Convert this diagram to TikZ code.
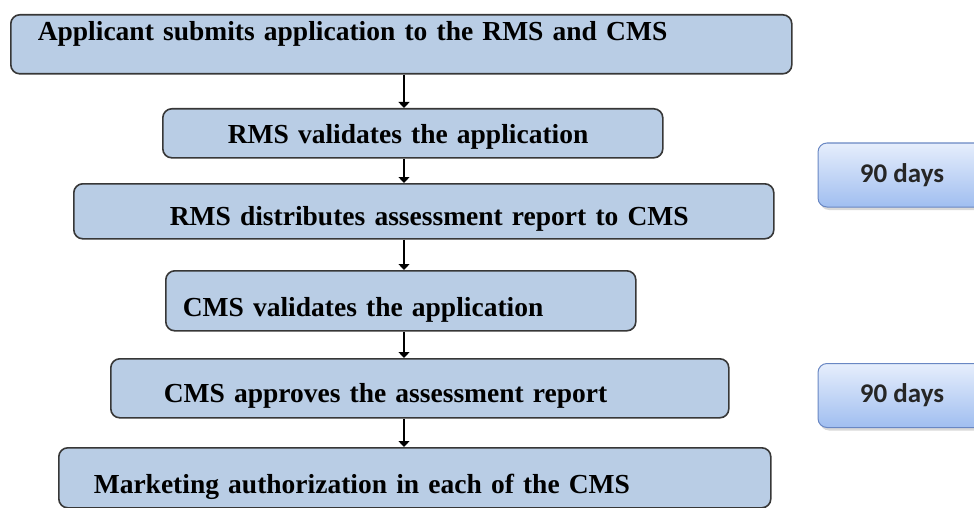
\documentclass[tikz,border=0pt]{standalone}
\usepackage{fontspec}
\setmainfont{Liberation Serif}
\newfontfamily\calibri{Carlito}
\usetikzlibrary{arrows.meta,shadows}
\definecolor{stepfill}{RGB}{185,205,229}
\definecolor{stepline}{RGB}{55,55,55}
\definecolor{daytop}{RGB}{230,238,252}
\definecolor{daybot}{RGB}{160,190,240}
\definecolor{dayline}{RGB}{105,135,195}
\tikzset{stepbox/.style={draw=stepline,fill=stepfill,line width=1.6pt,rounded corners=9pt,anchor=north west,inner xsep=0pt,inner ysep=0pt,align=left,font=\fontsize{27.5}{30}\selectfont\bfseries,text depth=0pt},
 pad/.style={execute at begin node={\hspace*{#1}}},
 days/.style={draw=dayline,line width=1pt,rounded corners=9pt,top color=daytop,bottom color=daybot,minimum width=168pt,minimum height=64pt,font=\calibri\fontsize{27}{30}\selectfont\bfseries,text=black!85,drop shadow={shadow xshift=2pt,shadow yshift=-3pt,opacity=0.3}},
 flow/.style={line width=1.3pt,-{Triangle[width=11pt,length=6pt]}}}

\begin{document}
\begin{tikzpicture}[x=1pt,y=-1pt]
\clip(0,0)rectangle(974,508);
\node[stepbox,text width=781pt,minimum height=59pt,pad=27pt,text height=0pt,text depth=7pt](apply) at(10,14){Applicant submits application to the RMS and CMS};
\node[stepbox,text width=500pt,minimum height=49pt,pad=65pt,text height=21pt](rmsval) at(162,108){RMS validates the application};
\node[stepbox,text width=700pt,minimum height=55pt,pad=96pt,text height=29pt](rmsdist) at(73,183){RMS distributes assessment report to CMS};
\node[stepbox,text width=470pt,minimum height=60pt,pad=17pt,text height=32pt](cmsval) at(165,270){CMS validates the application};
\node[stepbox,text width=618pt,minimum height=59pt,pad=53pt,text height=29pt](cmsappr) at(110,358){CMS approves the assessment report};
\node[stepbox,text width=712pt,minimum height=60pt,pad=35pt,text height=32pt](auth) at(58,447){Marketing authorization in each of the CMS};
\node[days](days1) at(902,175){90 days};
\node[days](days2) at(902,395.5){90 days};
\coordinate(spine) at(404,0);
\foreach \a/\b in {apply/rmsval,rmsval/rmsdist,rmsdist/cmsval,cmsval/cmsappr,cmsappr/auth}
 \draw[flow](\a.south-|spine)--(\b.north-|spine);
\end{tikzpicture}
\end{document}
